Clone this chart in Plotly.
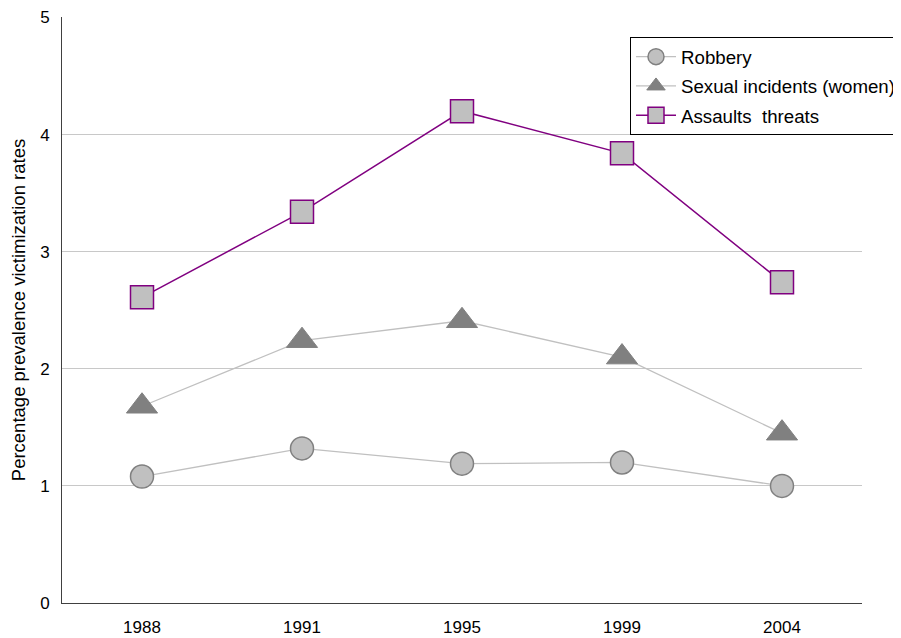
import plotly.graph_objects as go

years = ["1988", "1991", "1995", "1999", "2004"]
robbery = [1.08, 1.32, 1.19, 1.20, 1.00]
sexual = [1.68, 2.24, 2.41, 2.10, 1.45]
assaults = [2.61, 3.34, 4.20, 3.84, 2.74]

FONT = "Liberation Sans, Arial, sans-serif"

fig = go.Figure()
fig.add_trace(go.Scatter(
    x=years, y=robbery, name="Robbery", mode="lines+markers", legendgroup="a",
    line=dict(color="#C0C0C0", width=1.3),
    marker=dict(symbol="circle", size=23, color="#C0C0C0", line=dict(color="#808080", width=1.5))))
fig.add_trace(go.Scatter(
    x=years, y=sexual, name="Sexual incidents (women)", mode="lines+markers", legendgroup="b",
    line=dict(color="#C0C0C0", width=1.3),
    marker=dict(symbol="triangle-up", size=27, color="#808080", line=dict(color="#808080", width=1))))
fig.add_trace(go.Scatter(
    x=years, y=assaults, name="Assaults  threats", mode="lines+markers", legendgroup="c",
    line=dict(color="#800080", width=1.5),
    marker=dict(symbol="square", size=23, color="#C0C0C0", line=dict(color="#800080", width=1.5))))

fig.update_layout(
    width=893, height=630,
    margin=dict(l=54, r=39, t=9, b=35, autoexpand=False),
    paper_bgcolor="white", plot_bgcolor="white",
    font=dict(family=FONT, size=17, color="#000000"),
    showlegend=True,
    legend=dict(x=0.71, y=0.9659, xanchor="left", yanchor="top",
                bordercolor="#000000", borderwidth=1, bgcolor="white",
                font=dict(family=FONT, size=18.7), tracegroupgap=2, itemwidth=40),
    xaxis=dict(type="category", range=[-0.5, 4.5], showgrid=False, showline=True,
               linecolor="#404040", linewidth=1, ticks="", zeroline=False,
               tickfont=dict(size=17), ticklabelstandoff=9),
    yaxis=dict(range=[0, 5.004], tickvals=[0, 1, 2, 3, 4, 5], showgrid=True,
               gridcolor="#C8C8C8", gridwidth=1,
               showline=True, linecolor="#404040", linewidth=1, ticks="", zeroline=False,
               tickfont=dict(size=17), ticklabelstandoff=8, automargin=False,
               ticklabeloverflow="allow",
               title=dict(text="Percentage prevalence victimization rates", font=dict(size=18.5), standoff=10)),
)

fig.write_html("out.html")
